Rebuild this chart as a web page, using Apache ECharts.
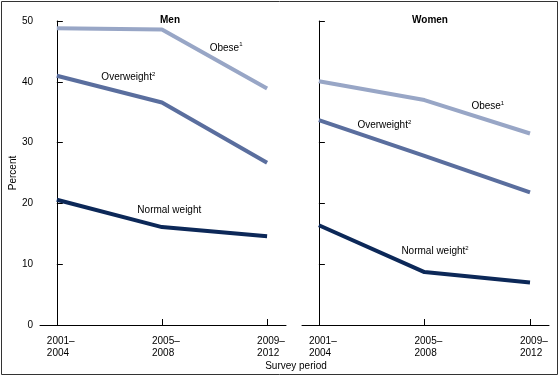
<!DOCTYPE html>
<html>
<head>
<meta charset="utf-8">
<script src="https://cdn.jsdelivr.net/npm/echarts@6/dist/echarts.min.js"></script>
<style>html,body{margin:0;padding:0;background:#fff}#c{width:560px;height:377px}</style>
</head>
<body>
<div id="c"></div>
<script>
const periods = [['2001–', '2004'], ['2005–', '2008'], ['2009–', '2012']];
const yTicks = [0, 10, 20, 30, 40, 50];
const menObese = [48.8, 48.6, 38.9];
const menOverweight = [41.0, 36.6, 26.7];
const menNormal = [20.6, 16.1, 14.6];
const womenObese = [40.1, 37.0, 31.5];
const womenOverweight = [33.7, 27.8, 21.8];
const womenNormal = [16.4, 8.7, 7.0];
const panelTitles = ['Men', 'Women'];
// annotation anchors [x index position, y value]
const menLabels = [
  {name: 'Obese', sup: '1', pos: [1.61, 45.6], s: 0},
  {name: 'Overweight', sup: '2', pos: [0.68, 40.7], s: 1},
  {name: 'Normal weight', sup: '', pos: [1.07, 18.8], s: 2}
];
const womenLabels = [
  {name: 'Obese', sup: '1', pos: [1.6, 35.9], s: 0},
  {name: 'Overweight', sup: '2', pos: [0.62, 32.9], s: 1},
  {name: 'Normal weight', sup: '2', pos: [1.1, 12.05], s: 2}
];

const colors = ['#98a6c6', '#5a6e9e', '#0c2858'];
const font = 'Liberation Sans, Arial, sans-serif';
const fs = 10;

function pts(arr) { return arr.map((v, i) => [i, v]); }

function xAxis(gi) {
  return {
    type: 'value', gridIndex: gi, min: -0.16, max: 2.18,
    axisLine: {show: true, lineStyle: {color: '#000', width: 1}},
    axisTick: {show: true, inside: true, length: 6, lineStyle: {color: '#000'}, customValues: [0, 1, 2]},
    axisLabel: {show: true, customValues: [0, 1, 2],
      formatter: v => { const p = periods[Math.round(v)]; return p ? '{a|' + p[0] + '}\n{a|' + p[1] + '}' : ''; },
      rich: {a: {width: 20, align: 'left', fontFamily: font, fontSize: fs, lineHeight: 12, color: '#000'}},
      color: '#000', fontFamily: font, fontSize: fs, margin: 10},
    splitLine: {show: false}
  };
}
function yAxis(gi, showLabels) {
  return {
    type: 'value', gridIndex: gi, min: 0, max: 50, interval: 10,
    axisLine: {show: true, lineStyle: {color: '#000', width: 1}},
    axisTick: {show: true, inside: true, length: 6, lineStyle: {color: '#000'}},
    axisLabel: {show: showLabels, color: '#000', fontFamily: font, fontSize: fs, margin: 7,
      formatter: v => yTicks.includes(v) ? String(v) : ''},
    splitLine: {show: false}
  };
}
function labelRich() {
  return {
    t: {fontFamily: font, fontSize: fs, color: '#000'},
    sup: {fontFamily: font, fontSize: 6, color: '#000', verticalAlign: 'top', padding: [0, 0, 6, 0]}
  };
}
function makeSeries(gi, data, labels) {
  return data.map((d, k) => ({
    type: 'line', xAxisIndex: gi, yAxisIndex: gi, data: pts(d),
    symbol: 'none', lineStyle: {color: colors[k], width: 4}, silent: true,
    markPoint: {
      symbol: 'circle', symbolSize: 0, silent: true,
      data: labels.filter(l => l.s === k).map(l => ({
        coord: l.pos,
        label: {show: true, position: 'inside', formatter: '{t|' + l.name + '}' + (l.sup ? '{sup|' + l.sup + '}' : ''), rich: labelRich()}
      }))
    }
  }));
}

const chart = echarts.init(document.getElementById('c'), null, {renderer: 'canvas'});
chart.setOption({
  animation: false,
  backgroundColor: '#fff',
  grid: [
    {left: 40, right: 274, top: 21, bottom: 52},
    {left: 302, right: 11, top: 21, bottom: 52}
  ],
  title: [
    {text: panelTitles[0], left: 165, top: 10, textAlign: 'center', textStyle: {fontFamily: font, fontSize: fs, fontWeight: 'bold', color: '#000'}},
    {text: panelTitles[1], left: 425, top: 10, textAlign: 'center', textStyle: {fontFamily: font, fontSize: fs, fontWeight: 'bold', color: '#000'}}
  ],
  xAxis: [xAxis(0), xAxis(1)],
  yAxis: [yAxis(0, true), yAxis(1, false)],
  series: [
    ...makeSeries(0, [menObese, menOverweight, menNormal], menLabels),
    ...makeSeries(1, [womenObese, womenOverweight, womenNormal], womenLabels)
  ],
  graphic: [
    {type: 'rect', shape: {x: 1.5, y: 1.5, width: 556, height: 373}, style: {fill: 'none', stroke: '#333', lineWidth: 1}, silent: true},
    {type: 'text', x: 296, y: 361, style: {text: 'Survey period', font: fs + 'px ' + font, fill: '#000', align: 'center', verticalAlign: 'top'}},
    {type: 'text', x: 8, y: 173, rotation: Math.PI / 2, style: {text: 'Percent', font: fs + 'px ' + font, fill: '#000', align: 'center', verticalAlign: 'top'}}
  ]
});
</script>
</body>
</html>
